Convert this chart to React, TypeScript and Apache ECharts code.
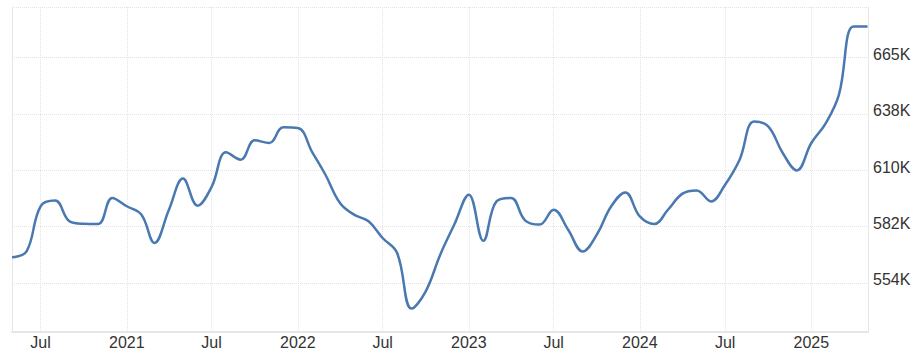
import React, { useEffect, useRef } from "react";
import * as echarts from "echarts";

// Monthly observations (thousands), May 2020 .. May 2025
const startMonth = "2020-05";
const values: number[] = [
  567.0, 569.9, 592.1, 594.9, 584.7, 583.5, 583.4, 596.2, // May 2020 - Dec 2020
  592.1, 588.0, 574.1, 590.4, 605.7, 592.4, 601.6, 618.6, 615.0, 624.5, 623.2, 630.9, // 2021
  630.6, 618.6, 607.6, 593.7, 588.0, 584.7, 576.5, 569.1, 541.8, 550.3, 568.3, 583.1, // 2022
  597.8, 575.2, 594.5, 596.2, 585.2, 583.1, 590.4, 580.6, 569.9, 578.1, 592.1, 598.9, // 2023
  587.1, 583.4, 590.4, 598.3, 599.9, 594.5, 602.7, 615.0, 633.8, 631.4, 618.3, 609.7, // 2024
  623.2, 633.0, 647.0, 680.5, 680.5, // 2025
];

const xTickDates = [
  "2020-07-01", "2021-01-01", "2021-07-01", "2022-01-01", "2022-07-01",
  "2023-01-01", "2023-07-01", "2024-01-01", "2024-07-01", "2025-01-01",
];

// y gridlines (thousands) labelled 554K, 582K, 610K, 638K, 665K
const yTickValues = [554.4, 582.12, 609.84, 637.56, 665.28];
const yMin = 530.3;
const yMax = 690.05;
const xMin = "2020-05-01";
const xMax = "2025-05-02";

function ts(s: string): number {
  return new Date(s + "T00:00:00Z").getTime();
}

function monthDates(start: string, n: number): number[] {
  const [y, m] = start.split("-").map(Number);
  const out: number[] = [];
  for (let i = 0; i < n; i++) {
    out.push(Date.UTC(y, m - 1 + i, 1));
  }
  return out;
}

export default function App() {
  const ref = useRef<HTMLDivElement>(null);
  useEffect(() => {
    document.body.style.margin = "0";
    if (!ref.current) return;
    const chart = echarts.init(ref.current, undefined, { renderer: "svg" });
    const dates = monthDates(startMonth, values.length);
    const seriesData = values.map((v, i) => [dates[i], v]);
    const tickTs = xTickDates.map(ts);
    const yTicksAll = [...yTickValues, yMax];
    const gridColor = "#e3e3e3";
    const textStyle = { color: "#333", fontSize: 16, fontFamily: "Liberation Sans, Arial, sans-serif" };
    chart.setOption({
      animation: false,
      grid: { left: 12, right: 53, top: 7, bottom: 28, containLabel: false },
      xAxis: {
        type: "value",
        min: ts(xMin),
        max: ts(xMax),
        axisLine: { show: true, lineStyle: { color: "#e6e6e6", width: 2 } },
        axisTick: { show: false, customValues: tickTs },
        axisLabel: {
          ...textStyle,
          margin: 2,
          customValues: tickTs,
          formatter: (v: number) => {
            const d = new Date(v);
            return d.getUTCMonth() === 6 ? "Jul" : String(d.getUTCFullYear());
          },
        },
        splitLine: { show: true, lineStyle: { color: gridColor, type: "dotted", width: 1 } },
      },
      yAxis: [
        {
          type: "value",
          position: "right",
          min: yMin,
          max: yMax,
          axisLine: { show: true, lineStyle: { color: "#e6e6e6", width: 1 } },
          axisTick: { show: false, customValues: yTicksAll },
          axisLabel: {
            ...textStyle,
            margin: 5,
            customValues: yTicksAll,
            verticalAlign: "bottom",
            lineHeight: 6,
            formatter: (v: number) => (v >= yMax - 0.01 ? "" : Math.round(v) + "K"),
          },
          splitLine: { show: true, lineStyle: { color: gridColor, type: "dotted", width: 1 } },
        },
        {
          type: "value",
          position: "left",
          min: yMin,
          max: yMax,
          axisLine: { show: true, lineStyle: { color: "#e6e6e6", width: 1 } },
          axisTick: { show: false },
          axisLabel: { show: false },
          splitLine: { show: false },
        },
      ],
      series: [
        {
          type: "line",
          data: seriesData,
          yAxisIndex: 0,
          smooth: 0.4,
          showSymbol: false,
          symbol: "none",
          lineStyle: { color: "#4a78b0", width: 2.5 },
        },
      ],
    });
    return () => chart.dispose();
  }, []);
  return <div ref={ref} style={{ width: 921, height: 360 }} />;
}
